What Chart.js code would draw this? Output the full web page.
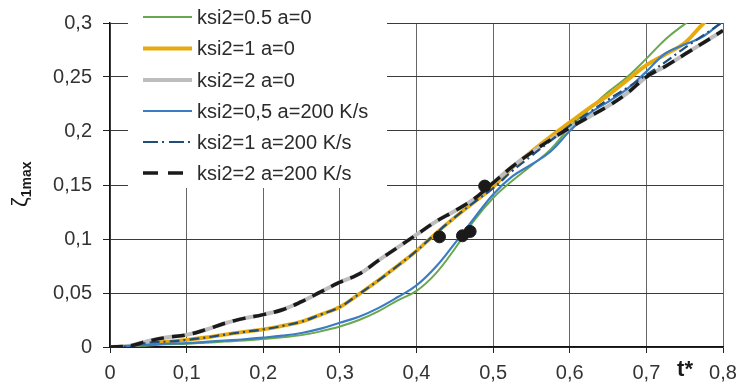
<!DOCTYPE html>
<html>
<head>
<meta charset="utf-8">
<script src="https://cdn.jsdelivr.net/npm/chart.js@4.4.0/dist/chart.umd.min.js"></script>
<style>
  html, body { margin: 0; padding: 0; background: #fff; }
</style>
</head>
<body>
<canvas id="myChart" width="737" height="389"></canvas>
<script>
// t* grid shared by every curve
const tValues = [0, 0.025, 0.05, 0.075, 0.1, 0.125, 0.15, 0.175, 0.2, 0.225, 0.25, 0.275, 0.3,
  0.325, 0.35, 0.375, 0.4, 0.425, 0.45, 0.475, 0.5, 0.525, 0.55, 0.575, 0.6, 0.625, 0.65,
  0.675, 0.7, 0.725, 0.75, 0.775, 0.8];

const ksi05a0 = [0, 0.0005, 0.0015, 0.0025, 0.003, 0.004, 0.005, 0.006, 0.0073, 0.009, 0.011,
  0.0145, 0.019, 0.025, 0.033, 0.043, 0.052, 0.068, 0.091, 0.117, 0.138, 0.154, 0.168, 0.183,
  0.2034, 0.22, 0.236, 0.25, 0.267, 0.285, 0.299, 0.312, 0.325];
const ksi1a0 = [0, 0.0005, 0.004, 0.005, 0.0066, 0.0088, 0.0115, 0.014, 0.0163, 0.0195, 0.0235,
  0.03, 0.037, 0.049, 0.0615, 0.075, 0.089, 0.105, 0.12, 0.134, 0.148, 0.166, 0.181, 0.195,
  0.208, 0.221, 0.233, 0.247, 0.261, 0.271, 0.2815, 0.3, 0.315];
const ksi2a0 = [0, 0.001, 0.0055, 0.009, 0.0112, 0.016, 0.022, 0.0265, 0.03, 0.0345, 0.042,
  0.051, 0.06, 0.0675, 0.08, 0.092, 0.104, 0.116, 0.126, 0.137, 0.152, 0.167, 0.18, 0.192,
  0.203, 0.213, 0.223, 0.235, 0.25, 0.26, 0.271, 0.282, 0.293];
const ksi05a200 = [0, 0.001, 0.002, 0.003, 0.0036, 0.0048, 0.006, 0.0072, 0.0087, 0.0105, 0.013,
  0.017, 0.0225, 0.028, 0.036, 0.046, 0.057, 0.074, 0.096, 0.119, 0.1413, 0.158, 0.169, 0.181,
  0.2, 0.216, 0.227, 0.239, 0.255, 0.272, 0.28, 0.288, 0.302];
const ksi1a200 = [0, 0.0005, 0.004, 0.005, 0.0066, 0.0088, 0.0115, 0.014, 0.0163, 0.0195, 0.0235,
  0.03, 0.037, 0.049, 0.0615, 0.075, 0.089, 0.105, 0.12, 0.134, 0.147, 0.163, 0.177, 0.191,
  0.205, 0.217, 0.229, 0.24, 0.252, 0.264, 0.277, 0.289, 0.301];
const ksi2a200 = [0, 0.001, 0.0055, 0.009, 0.0112, 0.016, 0.022, 0.0265, 0.03, 0.0345, 0.042,
  0.051, 0.06, 0.0675, 0.08, 0.092, 0.104, 0.116, 0.126, 0.137, 0.152, 0.167, 0.18, 0.192,
  0.203, 0.213, 0.223, 0.235, 0.25, 0.26, 0.271, 0.282, 0.293];

// black dots
const dotT = [0.43, 0.46, 0.47, 0.489];
const dotZeta = [0.102, 0.103, 0.107, 0.149];

const xTicks = [0, 0.1, 0.2, 0.3, 0.4, 0.5, 0.6, 0.7, 0.8];
const yTicks = [0, 0.05, 0.1, 0.15, 0.2, 0.25, 0.3];

const pts = (ys) => tValues.map((t, i) => ({ x: t, y: ys[i] }));
const comma = (v) => String(Math.round(v * 100) / 100).replace(".", ",");

const FONT = "'Liberation Sans', Arial, sans-serif";

const series = [
  { label: "ksi2=0.5 a=0", data: pts(ksi05a0), borderColor: "#6aa84f", borderWidth: 2, order: 6 },
  { label: "ksi2=1 a=0", data: pts(ksi1a0), borderColor: "#e8a90c", borderWidth: 3.8, order: 5 },
  { label: "ksi2=2 a=0", data: pts(ksi2a0), borderColor: "#bdbdbd", borderWidth: 4, order: 4 },
  { label: "ksi2=0,5 a=200 K/s", data: pts(ksi05a200), borderColor: "#3b7cc2", borderWidth: 2.2, order: 3 },
  { label: "ksi2=1 a=200 K/s", data: pts(ksi1a200), borderColor: "#1f4e79", borderWidth: 2.2, borderDash: [10, 4, 2, 4], order: 2 },
  { label: "ksi2=2 a=200 K/s", data: pts(ksi2a200), borderColor: "#1a1a1a", borderWidth: 3.5, borderDash: [13, 8], order: 1 },
];

const extras = {
  id: "extras",
  afterDraw(chart) {
    const { ctx, chartArea } = chart;
    ctx.save();
    // legend box, covering the grid
    ctx.fillStyle = "#fff";
    ctx.fillRect(128, chartArea.top - 1, 259, 188 - chartArea.top + 1);
    const rowY = [17, 48.5, 80, 111, 142, 173];
    ctx.font = "20px " + FONT;
    ctx.textBaseline = "middle";
    series.forEach((s, i) => {
      const y = rowY[i];
      ctx.strokeStyle = s.borderColor;
      ctx.lineWidth = s.borderWidth;
      ctx.setLineDash(s.borderDash ? (i === 4 ? [15, 4, 2, 5] : [15, 10]) : []);
      ctx.beginPath();
      ctx.moveTo(143, y);
      ctx.lineTo(192, y);
      ctx.stroke();
      ctx.setLineDash([]);
      ctx.fillStyle = "#2b2b2b";
      ctx.fillText(s.label, 197, y + 1);
    });
    // axis titles
    ctx.fillStyle = "#1a1a1a";
    ctx.font = "bold 22px " + FONT;
    ctx.textAlign = "center";
    ctx.textBaseline = "middle";
    ctx.fillText("t*", 685, 370);
    ctx.translate(27, 207);
    ctx.rotate(-Math.PI / 2);
    ctx.textAlign = "left";
    ctx.textBaseline = "alphabetic";
    ctx.font = "22px " + FONT;
    ctx.fillText("ζ", 0, 0);
    const w = ctx.measureText("ζ").width;
    ctx.font = "bold 14px " + FONT;
    ctx.fillText("1max", w, 4);
    ctx.restore();
  },
};

const ctx = document.getElementById("myChart").getContext("2d");

new Chart(ctx, {
  type: "line",
  data: {
    datasets: [
      ...series.map((s) => ({
        ...s,
        pointRadius: 0,
        fill: false,
        tension: 0.4,
        clip: 0,
      })),
      {
        label: "dots",
        data: dotT.map((t, i) => ({ x: t, y: dotZeta[i] })),
        showLine: false,
        pointRadius: 6,
        pointBackgroundColor: "#1a1a1a",
        pointBorderColor: "#1a1a1a",
        order: 0,
      },
    ],
  },
  options: {
    responsive: false,
    animation: false,
    layout: { padding: { top: 17, right: 0, left: 0, bottom: 0 } },
    plugins: { legend: { display: false }, tooltip: { enabled: false } },
    scales: {
      x: {
        type: "linear",
        min: 0,
        max: 0.8,
        afterFit: (s) => { s.height = 42; s.paddingRight = 14; s.paddingLeft = 0; },
        afterBuildTicks: (s) => { s.ticks = xTicks.map((v) => ({ value: v })); },
        ticks: {
          callback: (v) => comma(v),
          color: "#333",
          font: { size: 20, family: FONT },
          padding: 8,
          maxRotation: 0,
        },
        grid: { color: "#666", tickColor: "#222", tickLength: 6, lineWidth: 1 },
        border: { color: "#111", width: 1.5 },
      },
      y: {
        min: 0,
        max: 0.3,
        afterFit: (s) => { s.width = 110; },
        afterBuildTicks: (s) => { s.ticks = yTicks.map((v) => ({ value: v })); },
        ticks: {
          callback: (v) => comma(v),
          color: "#333",
          font: { size: 20, family: FONT },
          padding: 11,
        },
        grid: { color: "#3a3a3a", tickColor: "#222", tickLength: 7, lineWidth: 1 },
        border: { color: "#111", width: 1.5 },
      },
    },
  },
  plugins: [extras],
});
</script>
</body>
</html>
